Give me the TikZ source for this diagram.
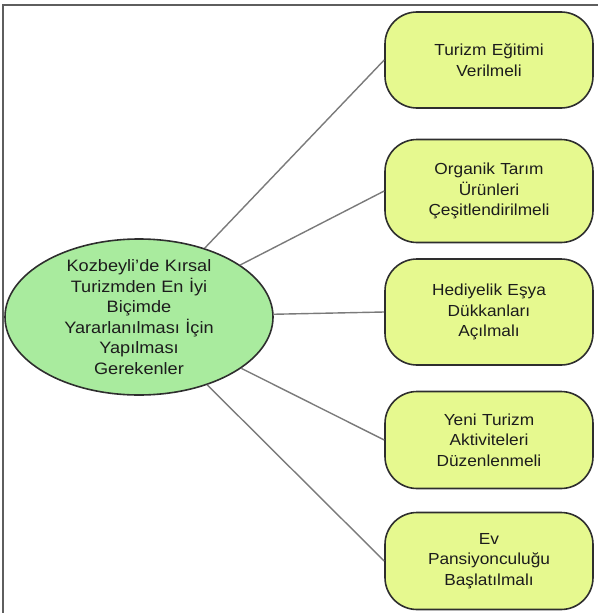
\documentclass[tikz,border=0pt]{standalone}
\usepackage{fontspec}
\setmainfont{Liberation Sans}
\newfontfamily\boxfont[FakeStretch=1.08]{Liberation Sans}
\newfontfamily\ellfont[FakeStretch=1.1]{Liberation Sans}
\usetikzlibrary{shapes.geometric}
\definecolor{boxfill}{HTML}{E6F98F}
\definecolor{ellfill}{HTML}{A9EB9E}
\definecolor{edgecol}{HTML}{2E2E2E}
\definecolor{linecol}{HTML}{7A7A7A}
\definecolor{framecol}{HTML}{5E5E5E}
\definecolor{txtcol}{HTML}{1C1C1C}
\begin{document}
\begin{tikzpicture}[x=1pt,y=-1pt,
  every node/.style={text=txtcol},
  itembox/.style={draw=edgecol, line width=1.6pt, fill=boxfill, rounded corners=32pt,
    minimum width=208pt, align=center, inner sep=0pt, text width=200pt,
    font=\boxfont\fontsize{16}{20.5}\selectfont},
  mainell/.style={draw=edgecol, line width=1.6pt, fill=ellfill, ellipse,
    minimum width=268pt, minimum height=156pt, inner xsep=0pt, inner ysep=-12pt,
    align=center, text width=165pt,
    font=\ellfont\fontsize{16.5}{20.5}\selectfont},
  conn/.style={draw=linecol, line width=1.4pt}]
\useasboundingbox (0,0) rectangle (598,613);
\draw[framecol, line width=2pt] (3,613) -- (3,5) -- (598,5);

\node[mainell] (e) at (139,317) {Kozbeyli’de Kırsal\\Turizmden En İyi\\Biçimde\\Yararlanılması İçin\\Yapılması\\Gerekenler};

\node[itembox, minimum height=96pt] (b1) at (489,60) {Turizm Eğitimi\\Verilmeli};
\node[itembox, minimum height=103pt] (b2) at (489,191) {Organik Tarım\\Ürünleri\\Çeşitlendirilmeli};
\node[itembox, minimum height=106pt] (b3) at (489,312) {Hediyelik Eşya\\Dükkanları\\Açılmalı};
\node[itembox, minimum height=97pt] (b4) at (489,440) {Yeni Turizm\\Aktiviteleri\\Düzenlenmeli};
\node[itembox, minimum height=97pt] (b5) at (489,561) {Ev\\Pansiyonculuğu\\Başlatılmalı};

\draw[conn] (e) -- (b1.west);
\draw[conn] (e) -- (b2.west);
\draw[conn] (e) -- (b3.west);
\draw[conn] (e) -- (b4.west);
\draw[conn] (e) -- (b5.west);
\end{tikzpicture}
\end{document}
